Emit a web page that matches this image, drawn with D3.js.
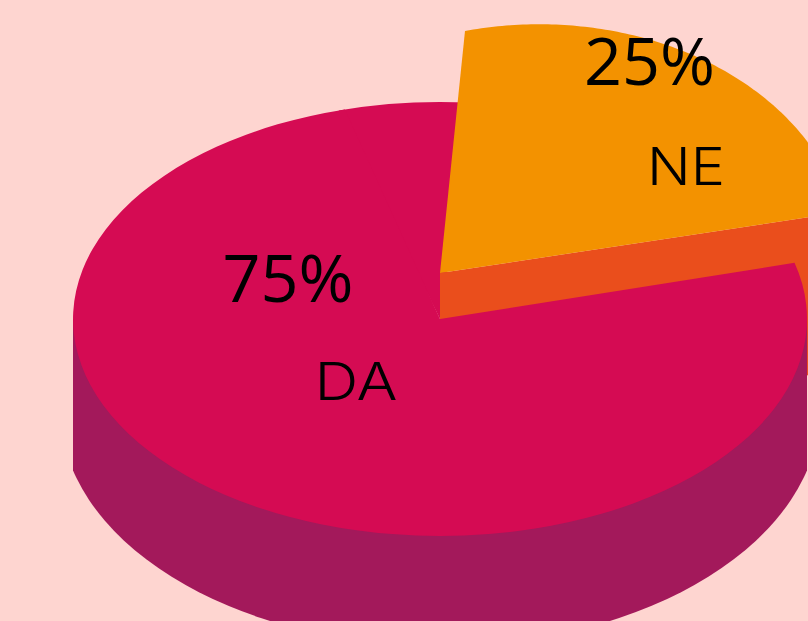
<!DOCTYPE html>
<html>
<head>
<meta charset="utf-8">
<script src="https://cdn.jsdelivr.net/npm/d3@7"></script>
<style>
    html, body { margin: 0; padding: 0; background: #FED5D0; }
    svg { display: block; }
</style>
</head>
<body>
<div id="canvas"></div>
<script>
const categories = ["DA", "NE"];
const values = [75, 25];
const topColors = ["#D50B53", "#F39200"];
const wallColors = ["#A3195B", "#EA4E1C"];

const width = 808;
const height = 621;
const deg = Math.PI / 180;

// top face of the pie, and the ellipse its lower rim follows
const face = { x: 440, y: 319, rx: 367, ry: 217 };
const rim = { x: 440, y: 409, rx: 380, ry: 237, sideY: 470 };

// the pulled out slice is sheared: its tip sits off the centre of its own rim
const sliceTip = [440, 273];
const sliceCentre = [532, 269];
const rimStart = [-67, -238];
const rimEnd = [311, -57];
const sliceDepth = 158;

const pie = d3.pie()
    .value(d => d)
    .sort(null)
    .startAngle(75 * deg)
    .endAngle(435 * deg);

const slices = pie(values);
const [da, ne] = slices;

const arc = d3.arc().innerRadius(0).outerRadius(1);
const faceTransform = `translate(${face.x}, ${face.y}) scale(${face.rx}, ${face.ry})`;

const svg = d3.select("#canvas").append("svg")
    .attr("width", width)
    .attr("height", height);

svg.append("rect")
    .attr("width", width)
    .attr("height", height)
    .attr("fill", "#FED5D0");

svg.append("clipPath")
    .attr("id", "side")
    .append("rect")
    .attr("x", face.x - face.rx)
    .attr("y", face.y)
    .attr("width", face.rx * 2)
    .attr("height", height - face.y);

// NE spans a quarter turn, which is what lets rimStart and rimEnd work as axes
const neAngle = d3.scaleLinear()
    .domain([ne.startAngle, ne.endAngle])
    .range([0, Math.PI / 2]);

function neRim(a) {
    const t = neAngle(a);
    return [
        sliceCentre[0] + rimStart[0] * Math.cos(t) + rimEnd[0] * Math.sin(t),
        sliceCentre[1] + rimStart[1] * Math.cos(t) + rimEnd[1] * Math.sin(t)
    ];
}

// DA runs on a little under the NE slice so no gap shows where NE was
svg.append("path")
    .attr("d", arc({ startAngle: da.endAngle - 1 * deg, endAngle: da.endAngle + 20 * deg }))
    .attr("transform", faceTransform)
    .attr("fill", topColors[0]);

// cut face of NE, seen behind the DA top
const rimLast = neRim(ne.endAngle);
const cut = [
    sliceTip,
    rimLast,
    [rimLast[0], rimLast[1] + sliceDepth],
    [sliceTip[0], sliceTip[1] + sliceDepth]
];
svg.append("path")
    .attr("d", d3.line()(cut) + "Z")
    .attr("fill", wallColors[1]);

// side wall of the pie
const wall = svg.append("g")
    .attr("clip-path", "url(#side)")
    .attr("fill", wallColors[0]);

wall.append("rect")
    .attr("x", face.x - face.rx)
    .attr("y", face.y)
    .attr("width", face.rx * 2)
    .attr("height", rim.sideY - face.y);

wall.append("path")
    .attr("d", arc({ startAngle: 0, endAngle: 2 * Math.PI }))
    .attr("transform", `translate(${rim.x}, ${rim.y}) scale(${rim.rx}, ${rim.ry})`);

svg.append("path")
    .attr("d", arc(da))
    .attr("transform", faceTransform)
    .attr("fill", topColors[0]);

const rimPoints = d3.range(0, 121)
    .map(i => neRim(ne.startAngle + (ne.endAngle - ne.startAngle) * i / 120));

svg.append("path")
    .attr("d", d3.line()([sliceTip, ...rimPoints]) + "Z")
    .attr("fill", topColors[1]);

const total = d3.sum(values);
const pct = d3.format(".0%");
const percentPos = [[288, 302], [649.5, 85]];
const namePos = [[356, 400], [686, 185]];
const nameWidth = [83, 78];

svg.selectAll(".pct")
    .data(values)
    .enter().append("text")
    .attr("class", "pct")
    .attr("x", (d, i) => percentPos[i][0])
    .attr("y", (d, i) => percentPos[i][1])
    .attr("text-anchor", "middle")
    .attr("font-family", "'Open Sans'")
    .attr("font-size", 66.5)
    .attr("fill", "#000")
    .text(d => pct(d / total));

svg.selectAll(".name")
    .data(categories)
    .enter().append("text")
    .attr("class", "name")
    .attr("x", (d, i) => namePos[i][0])
    .attr("y", (d, i) => namePos[i][1])
    .attr("text-anchor", "middle")
    .attr("font-family", "Inter")
    .attr("font-weight", 300)
    .attr("font-size", 52)
    .attr("textLength", (d, i) => nameWidth[i])
    .attr("lengthAdjust", "spacingAndGlyphs")
    .attr("fill", "#000")
    .text(d => d);
</script>
</body>
</html>
